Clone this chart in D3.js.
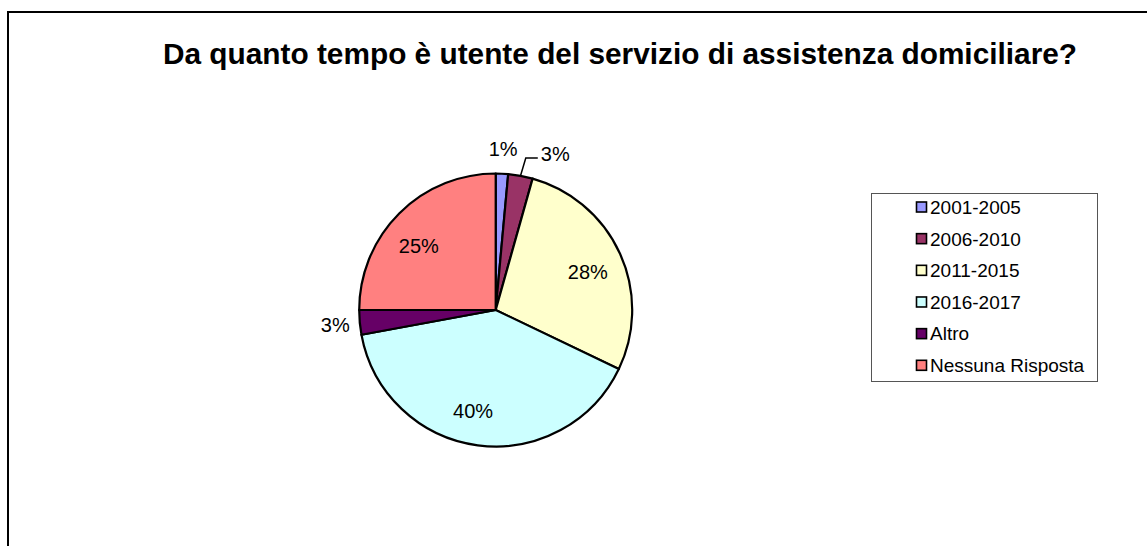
<!DOCTYPE html>
<html>
<head>
<meta charset="utf-8">
<script src="https://cdn.jsdelivr.net/npm/d3@7"></script>
<style>
  body { margin: 0; background: #fff; }
  svg { display: block; font-family: "Liberation Sans", Arial, sans-serif; }
</style>
</head>
<body>
<div id="chart"></div>
<script>
// data (percent of answers)
const categories = ["2001-2005", "2006-2010", "2011-2015", "2016-2017", "Altro", "Nessuna Risposta"];
const values = [1.46, 2.9, 27.75, 40.0, 2.9, 25.0];
const colors = ["#9999FF", "#993366", "#FFFFCC", "#CCFFFF", "#660066", "#FF8080"];
const title = "Da quanto tempo è utente del servizio di assistenza domiciliare?";

const width = 1147, height = 546;
const cx = 495.7, cy = 310, radius = 136.5;
// label placement: share of radius, and a small angle nudge in degrees
const labelRadius = [1.18, 1.0, 0.73, 0.76, 1.18, 0.735];
const labelNudge = [0, 0, 2, 5, 0, -5];

const svg = d3.select("#chart").append("svg")
    .attr("width", width)
    .attr("height", height);

// outer frame (runs off the right and bottom edge)
svg.append("rect")
    .attr("x", 8).attr("y", 12)
    .attr("width", width + 20).attr("height", height + 20)
    .attr("fill", "none")
    .attr("stroke", "#000")
    .attr("stroke-width", 2);

svg.append("text")
    .attr("x", 620).attr("y", 64)
    .attr("text-anchor", "middle")
    .style("font-size", "29.8px")
    .style("font-weight", "bold")
    .text(title);

const pie = d3.pie().sort(null).value(d => d);
const arcs = pie(values);
const arc = d3.arc().innerRadius(0).outerRadius(radius);

const g = svg.append("g").attr("transform", "translate(" + cx + "," + cy + ")");

g.selectAll("path")
    .data(arcs)
    .enter()
    .append("path")
    .attr("d", arc)
    .attr("fill", (d, i) => colors[i])
    .attr("stroke", "#000")
    .attr("stroke-width", 2.2)
    .attr("stroke-linejoin", "round");

const pct = v => Math.round(v) + "%";
const mid = d => (d.startAngle + d.endAngle) / 2;

// labels
arcs.forEach((d, i) => {
    const a = mid(d) + labelNudge[i] * Math.PI / 180;
    if (i === 1) {
        // leader line for the small slice
        const p0 = [radius * Math.sin(a), -radius * Math.cos(a)];
        const p1 = [(radius + 18) * Math.sin(a) + 2, -(radius + 18) * Math.cos(a)];
        const p2 = [p1[0] + 12, p1[1]];
        g.append("path")
            .attr("d", d3.line()([p0, p1, p2]))
            .attr("fill", "none")
            .attr("stroke", "#000")
            .attr("stroke-width", 1.5);
        g.append("text")
            .attr("x", p2[0] + 3).attr("y", p2[1] - 4)
            .attr("dy", "0.35em")
            .style("font-size", "20px")
            .text(pct(values[i]));
        return;
    }
    const r = radius * labelRadius[i];
    g.append("text")
        .attr("x", r * Math.sin(a))
        .attr("y", -r * Math.cos(a))
        .attr("dy", "0.35em")
        .attr("text-anchor", "middle")
        .style("font-size", "20px")
        .text(pct(values[i]));
});

// legend
const legend = svg.append("g").attr("transform", "translate(871,193)");
legend.append("rect")
    .attr("x", 0.5).attr("y", 0.5)
    .attr("width", 226).attr("height", 188)
    .attr("fill", "#fff")
    .attr("stroke", "#555")
    .attr("stroke-width", 1);

const item = legend.selectAll(".item")
    .data(categories)
    .enter()
    .append("g")
    .attr("transform", (d, i) => "translate(45," + (14 + i * 31.66) + ")");

item.append("rect")
    .attr("x", 0.5).attr("y", -5)
    .attr("width", 10).attr("height", 10)
    .attr("fill", (d, i) => colors[i])
    .attr("stroke", "#000")
    .attr("stroke-width", 1.6);

item.append("text")
    .attr("x", 14).attr("y", 0)
    .attr("dy", "0.36em")
    .style("font-size", "19px")
    .text(d => d);
</script>
</body>
</html>
